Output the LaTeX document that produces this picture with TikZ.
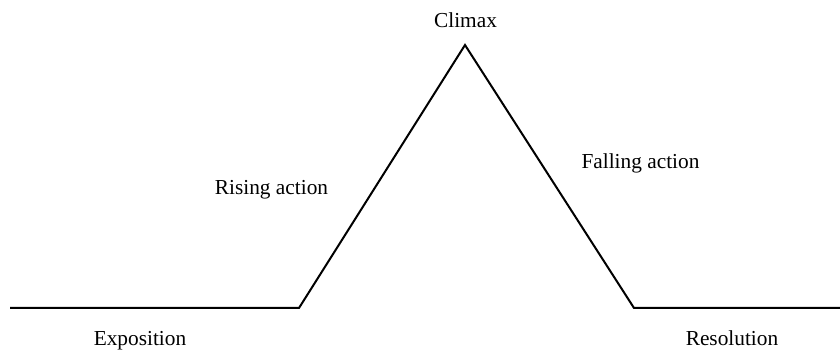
\documentclass[tikz,border=0pt]{standalone}
\usepackage{fontspec}
\setmainfont{Liberation Serif}
\tikzstyle{stage}=[anchor=base,inner sep=0pt,font=\fontsize{16}{18}\selectfont]
\tikzstyle{arc}=[line width=1.5pt,line join=miter]

\begin{document}
\begin{tikzpicture}[x=0.75pt,y=-0.75pt]
  \useasboundingbox (0,0) rectangle (840,352);
  \coordinate (start) at (10,308);
  \coordinate (rise) at (299,308);
  \coordinate (peak) at (465,45);
  \coordinate (fall) at (634,308);
  \coordinate (end) at (840,308);

  \node[stage] (climax) at (465.5,28) {Climax};
  \node[stage] (rising) at (271.5,195) {Rising action};
  \node[stage] (falling) at (640.5,169) {Falling action};
  \node[stage] (expo) at (140,346) {Exposition};
  \node[stage] (reso) at (732,346) {Resolution};

  \draw[arc] (start) -- (rise) -- (peak) -- (fall) -- (end);
\end{tikzpicture}
\end{document}
